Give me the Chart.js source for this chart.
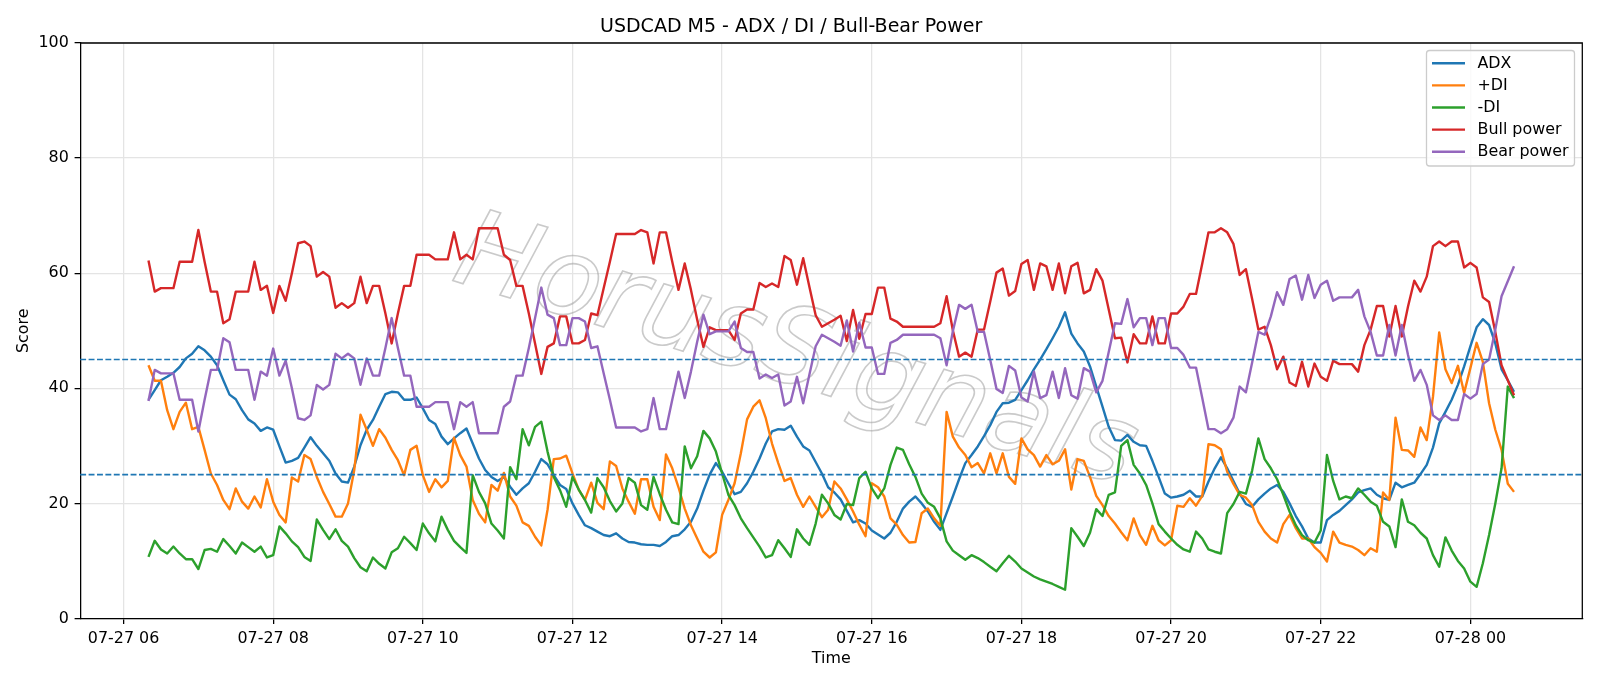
<!DOCTYPE html>
<html>
<head>
<meta charset="utf-8">
<title>USDCAD M5 - ADX / DI / Bull-Bear Power</title>
<script src="https://cdn.jsdelivr.net/npm/chart.js@4.4.1/dist/chart.umd.min.js"></script>
<style>
  html, body { margin: 0; padding: 0; background: #fff; }
  #wrap { width: 1600px; height: 686px; }
</style>
</head>
<body>
<div id="wrap"><canvas id="c" width="1600" height="686"></canvas></div>
<script>
// USDCAD M5, 07-27 06:20 -> 07-28 00:35, one value per 5-minute bar.
const FIRST_BAR_MIN = 380;   // minutes after 07-27 00:00
const BAR_MIN = 5;

const ADX = [
  38.0, 39.7, 41.4, 42.0, 42.7, 43.7, 45.2, 46.0, 47.3, 46.6, 45.5, 44.0,
  41.4, 38.9, 38.1, 36.2, 34.6, 33.9, 32.6, 33.2, 32.8, 29.9, 27.1, 27.4,
  27.9, 29.7, 31.5, 30.0, 28.7, 27.4, 25.2, 23.8, 23.6, 26.4, 30.1, 32.8,
  34.5, 36.8, 39.0, 39.4, 39.3, 38.0, 38.0, 38.4, 36.5, 34.5, 33.8, 31.6,
  30.3, 31.3, 32.2, 33.0, 30.4, 27.8, 25.8, 24.6, 23.9, 24.6, 22.9, 21.5,
  22.6, 23.5, 25.5, 27.7, 26.8, 24.9, 23.2, 22.5, 20.0, 18.0, 16.2, 15.7,
  15.1, 14.5, 14.3, 14.8, 13.9, 13.3, 13.2, 12.9, 12.8, 12.8, 12.6, 13.3,
  14.3, 14.5, 15.5, 16.8, 19.1, 22.2, 25.0, 27.0, 25.5, 23.5, 21.6, 22.0,
  23.5, 25.5, 27.8, 30.4, 32.5, 32.9, 32.8, 33.5, 31.6, 29.9, 29.2, 27.2,
  25.2, 22.8, 21.9, 20.7, 18.7, 16.7, 17.1, 16.5, 15.3, 14.6, 13.9, 14.9,
  16.8, 19.1, 20.3, 21.2, 20.0, 18.6, 16.8, 15.4, 18.3, 21.2, 24.2, 27.0,
  28.4, 29.9, 31.7, 33.6, 35.9, 37.4, 37.5, 38.0, 39.7, 41.4, 43.3, 45.0,
  46.8, 48.7, 50.7, 53.2, 49.5, 47.8, 46.4, 43.8, 40.3, 36.8, 33.3, 31.0,
  30.9, 31.9, 30.7, 30.1, 30.0, 27.4, 24.6, 21.7, 21.0, 21.2, 21.5, 22.2,
  21.2, 21.2, 23.8, 26.1, 28.0, 26.1, 23.9, 21.7, 19.9, 19.4, 20.7, 21.7,
  22.6, 23.2, 22.0, 20.0, 17.8, 16.0, 13.9, 13.2, 13.2, 17.1, 18.0, 18.7,
  19.7, 20.7, 21.9, 22.3, 22.6, 21.5, 20.9, 20.6, 23.6, 22.8, 23.2, 23.6,
  25.1, 26.7, 29.7, 33.9, 35.9, 38.0, 40.6, 43.8, 47.3, 50.6, 52.0, 51.0,
  47.8, 43.3, 41.4, 39.4,
];

const PLUS_DI = [
  44.0, 41.3, 41.3, 36.2, 32.9, 35.9, 37.5, 32.9, 33.3, 29.3, 25.2, 23.2,
  20.6, 19.0, 22.6, 20.3, 19.1, 21.2, 19.3, 24.2, 20.3, 18.0, 16.7, 24.5,
  23.8, 28.4, 27.7, 24.6, 22.0, 19.9, 17.7, 17.7, 20.0, 25.8, 35.4, 32.8,
  30.0, 32.9, 31.4, 29.3, 27.5, 24.9, 29.3, 30.0, 24.9, 22.0, 24.2, 22.8,
  23.9, 31.4, 28.4, 26.4, 20.6, 18.2, 16.7, 23.2, 22.2, 25.3, 21.2, 19.6,
  16.7, 16.1, 14.2, 12.7, 18.9, 27.7, 27.8, 28.3, 25.2, 22.4, 20.6, 23.6,
  20.1, 19.0, 27.3, 26.5, 22.6, 20.3, 18.2, 24.2, 24.2, 19.4, 17.1, 28.5,
  26.1, 22.8, 19.1, 16.2, 13.9, 11.6, 10.6, 11.5, 18.0, 20.6, 23.5, 28.7,
  34.6, 36.8, 37.9, 34.8, 30.4, 27.0, 23.9, 24.4, 21.5, 19.4, 21.2, 19.4,
  17.6, 18.9, 23.8, 22.6, 20.7, 18.6, 16.3, 14.3, 23.5, 22.8, 21.2, 17.4,
  16.3, 14.5, 13.2, 13.3, 18.3, 19.1, 17.4, 16.1, 35.9, 31.6, 29.7, 28.4,
  26.3, 27.0, 25.2, 28.7, 25.2, 28.7, 24.6, 23.4, 31.3, 29.4, 28.4, 26.4,
  28.4, 26.8, 27.4, 29.4, 22.4, 27.7, 27.4, 24.6, 21.3, 19.7, 17.8, 16.5,
  15.0, 13.6, 17.4, 14.5, 12.8, 16.1, 13.6, 12.7, 13.6, 19.6, 19.4, 20.9,
  19.6, 21.3, 30.3, 30.1, 29.4, 25.5, 23.4, 21.5, 21.0, 19.7, 16.8, 15.1,
  13.9, 13.2, 16.4, 18.0, 15.7, 13.9, 13.9, 12.4, 11.4, 9.9, 15.1, 13.2,
  12.8, 12.5, 11.9, 11.0, 12.2, 11.6, 21.9, 20.6, 34.9, 29.3, 29.2, 28.1,
  33.2, 31.0, 38.5, 49.7, 43.3, 40.9, 43.9, 39.2, 43.5, 47.9, 44.6, 37.4,
  32.8, 29.3, 23.4, 22.0,
];

const MINUS_DI = [
  10.7, 13.5, 12.0, 11.3, 12.5, 11.3, 10.3, 10.3, 8.6, 11.9, 12.1, 11.6,
  13.8, 12.6, 11.3, 13.2, 12.4, 11.6, 12.5, 10.6, 11.0, 16.0, 14.8, 13.4,
  12.4, 10.7, 10.0, 17.2, 15.4, 13.8, 15.5, 13.5, 12.5, 10.5, 8.9, 8.2,
  10.6, 9.5, 8.7, 11.5, 12.2, 14.2, 13.1, 11.9, 16.5, 14.8, 13.4, 17.7,
  15.4, 13.5, 12.4, 11.4, 24.9, 22.0, 20.0, 16.5, 15.3, 13.9, 26.3, 24.2,
  32.9, 30.1, 33.3, 34.2, 29.0, 24.6, 22.3, 19.4, 24.6, 22.4, 20.6, 18.4,
  24.4, 22.8, 20.4, 18.6, 20.0, 24.4, 23.6, 19.7, 18.9, 24.6, 21.6, 18.9,
  16.7, 16.4, 29.9, 26.1, 28.2, 32.6, 31.3, 29.0, 25.2, 21.5, 19.7, 17.4,
  15.7, 14.1, 12.5, 10.6, 11.0, 13.6, 12.2, 10.7, 15.5, 13.9, 12.8, 16.5,
  21.5, 20.0, 18.0, 17.2, 19.9, 19.7, 24.4, 25.5, 22.6, 20.9, 22.6, 26.7,
  29.7, 29.3, 26.8, 24.6, 21.7, 20.1, 19.4, 17.4, 13.4, 11.8, 11.0, 10.2,
  11.0, 10.5, 9.8, 9.0, 8.2, 9.6, 10.9, 9.9, 8.7, 8.0, 7.3, 6.8,
  6.4, 6.0, 5.5, 5.0, 15.7, 14.2, 12.6, 14.9, 19.0, 17.8, 21.5, 21.9,
  30.0, 31.0, 26.7, 25.2, 23.2, 20.0, 16.4, 15.1, 13.9, 12.8, 12.0, 11.6,
  15.1, 13.9, 12.0, 11.6, 11.3, 18.3, 19.9, 22.0, 21.7, 25.7, 31.3, 27.7,
  26.1, 24.2, 21.5, 18.6, 16.2, 14.5, 13.6, 13.2, 15.3, 28.4, 23.9, 20.7,
  21.2, 20.9, 22.6, 21.5, 20.3, 19.6, 16.8, 16.0, 12.4, 20.7, 16.8, 16.2,
  14.9, 13.9, 11.0, 9.0, 14.1, 11.8, 10.0, 8.7, 6.4, 5.5, 9.6, 14.5,
  20.0, 26.1, 40.3, 38.3,
];

const BULL_POWER = [
  62.2, 56.8, 57.4, 57.4, 57.4, 62.0, 62.0, 62.0, 67.5, 62.0, 56.8, 56.8,
  51.3, 52.0, 56.8, 56.8, 56.8, 62.0, 57.1, 57.8, 53.1, 57.8, 55.2, 60.0,
  65.2, 65.5, 64.7, 59.4, 60.2, 59.4, 54.0, 54.8, 54.0, 54.8, 59.4, 54.8,
  57.8, 57.8, 53.0, 47.8, 53.0, 57.8, 57.8, 63.2, 63.2, 63.2, 62.4, 62.4,
  62.4, 67.1, 62.4, 63.2, 62.4, 67.8, 67.8, 67.8, 67.8, 63.2, 62.3, 57.8,
  57.8, 53.0, 47.8, 42.5, 47.2, 47.8, 52.5, 52.5, 47.8, 47.8, 48.4, 53.0,
  52.7, 57.4, 62.0, 66.8, 66.8, 66.8, 66.8, 67.5, 67.1, 61.7, 67.1, 67.1,
  62.0, 57.1, 61.7, 57.1, 51.9, 47.2, 50.6, 50.1, 50.1, 50.1, 48.4, 53.0,
  53.7, 53.7, 58.3, 57.6, 58.2, 57.6, 63.0, 62.3, 58.0, 62.6, 57.6, 52.7,
  50.7, 51.3, 51.9, 52.6, 48.2, 53.6, 48.6, 52.9, 52.9, 57.5, 57.5, 52.1,
  51.6, 50.7, 50.7, 50.7, 50.7, 50.7, 50.7, 51.3, 56.0, 50.1, 45.5, 46.2,
  45.5, 50.2, 50.2, 55.1, 60.1, 60.8, 56.1, 56.9, 61.6, 62.3, 57.1, 61.7,
  61.2, 57.1, 61.7, 56.5, 61.2, 61.8, 56.5, 57.1, 60.7, 58.7, 53.7, 48.7,
  48.8, 44.5, 49.4, 47.8, 47.8, 52.5, 47.8, 47.8, 53.0, 53.0, 54.2, 56.4,
  56.4, 61.7, 67.1, 67.1, 67.8, 67.1, 65.1, 59.7, 60.7, 55.5, 50.2, 50.7,
  47.5, 43.3, 45.5, 41.0, 40.4, 44.6, 40.3, 44.3, 42.0, 41.3, 44.8, 44.2,
  44.2, 44.2, 42.9, 47.5, 50.2, 54.3, 54.3, 49.0, 54.3, 49.0, 54.2, 58.7,
  56.8, 59.4, 64.7, 65.5, 64.7, 65.5, 65.5, 61.0, 61.8, 61.0, 55.8, 55.0,
  49.8, 44.0, 41.4, 38.8,
];

const BEAR_POWER = [
  37.8, 43.2, 42.6, 42.6, 42.6, 38.0, 38.0, 38.0, 32.5, 38.0, 43.2, 43.2,
  48.7, 48.0, 43.2, 43.2, 43.2, 38.0, 42.9, 42.2, 46.9, 42.2, 44.8, 40.0,
  34.8, 34.5, 35.3, 40.6, 39.8, 40.6, 46.0, 45.2, 46.0, 45.2, 40.6, 45.2,
  42.2, 42.2, 47.0, 52.2, 47.0, 42.2, 42.2, 36.8, 36.8, 36.8, 37.6, 37.6,
  37.6, 32.9, 37.6, 36.8, 37.6, 32.2, 32.2, 32.2, 32.2, 36.8, 37.7, 42.2,
  42.2, 47.0, 52.2, 57.5, 52.8, 52.2, 47.5, 47.5, 52.2, 52.2, 51.6, 47.0,
  47.3, 42.6, 38.0, 33.2, 33.2, 33.2, 33.2, 32.5, 32.9, 38.3, 32.9, 32.9,
  38.0, 42.9, 38.3, 42.9, 48.1, 52.8, 49.4, 49.9, 49.9, 49.9, 51.6, 47.0,
  46.3, 46.3, 41.7, 42.4, 41.8, 42.4, 37.0, 37.7, 42.0, 37.4, 42.4, 47.3,
  49.3, 48.7, 48.1, 47.4, 51.8, 46.4, 51.4, 47.1, 47.1, 42.5, 42.5, 47.9,
  48.4, 49.3, 49.3, 49.3, 49.3, 49.3, 49.3, 48.7, 44.0, 49.9, 54.5, 53.8,
  54.5, 49.8, 49.8, 44.9, 39.9, 39.2, 43.9, 43.1, 38.4, 37.7, 42.9, 38.3,
  38.8, 42.9, 38.3, 43.5, 38.8, 38.2, 43.5, 42.9, 39.3, 41.3, 46.3, 51.3,
  51.2, 55.5, 50.6, 52.2, 52.2, 47.5, 52.2, 52.2, 47.0, 47.0, 45.8, 43.6,
  43.6, 38.3, 32.9, 32.9, 32.2, 32.9, 34.9, 40.3, 39.3, 44.5, 49.8, 49.3,
  52.5, 56.7, 54.5, 59.0, 59.6, 55.4, 59.7, 55.7, 58.0, 58.7, 55.2, 55.8,
  55.8, 55.8, 57.1, 52.5, 49.8, 45.7, 45.7, 51.0, 45.7, 51.0, 45.8, 41.3,
  43.2, 40.6, 35.3, 34.5, 35.3, 34.5, 34.5, 39.0, 38.2, 39.0, 44.2, 45.0,
  50.2, 56.0, 58.6, 61.2,
];

const SERIES_NAMES = ["ADX", "+DI", "-DI", "Bull power", "Bear power"];
const SERIES_COLORS = ["#1f77b4", "#ff7f0e", "#2ca02c", "#d62728", "#9467bd"];

// x ticks every two hours
const TICK_MIN = [360, 480, 600, 720, 840, 960, 1080, 1200, 1320, 1440];
const TICK_LABELS = [
  "07-27 06", "07-27 08", "07-27 10", "07-27 12", "07-27 14",
  "07-27 16", "07-27 18", "07-27 20", "07-27 22", "07-28 00",
];
const Y_TICKS = [0, 20, 40, 60, 80, 100];
const LEVELS = [45, 25];   // dashed reference lines

const FONT = "'DejaVu Sans', 'Liberation Sans', sans-serif";
const GRID = "#e4e4e4";
const INK = "#000";

function toPoints(values) {
  return values.map((v, k) => ({ x: FIRST_BAR_MIN + BAR_MIN * k, y: v }));
}

const seriesValues = [ADX, PLUS_DI, MINUS_DI, BULL_POWER, BEAR_POWER];
const lastBar = FIRST_BAR_MIN + BAR_MIN * (ADX.length - 1);
const pad = (lastBar - FIRST_BAR_MIN) * 0.05;   // matplotlib-ish x margin

const overlay = {
  id: "overlay",
  beforeDatasetsDraw(chart) {
    const { ctx, chartArea: a } = chart;
    // watermark
    ctx.save();
    ctx.beginPath();
    ctx.rect(a.left, a.top, a.right - a.left, a.bottom - a.top);
    ctx.clip();
    ctx.translate(795, 356);
    ctx.rotate(17 * Math.PI / 180);
    ctx.font = `oblique 108px ${FONT}`;
    ctx.textAlign = "center";
    ctx.textBaseline = "middle";
    ctx.lineWidth = 1.6;
    ctx.strokeStyle = "rgba(150,150,150,0.5)";
    ctx.strokeText("HorusSignals", 0, 0);
    ctx.restore();
  },
  afterDatasetsDraw(chart) {
    const { ctx, chartArea: a, scales: { y } } = chart;
    ctx.save();
    ctx.strokeStyle = "#1f77b4";
    ctx.lineWidth = 1.6;
    ctx.setLineDash([5.9, 2.5]);
    LEVELS.forEach((lv) => {
      const py = y.getPixelForValue(lv);
      ctx.beginPath();
      ctx.moveTo(a.left, py);
      ctx.lineTo(a.right, py);
      ctx.stroke();
    });
    ctx.restore();
  },
  afterDraw(chart) {
    const { ctx, chartArea: a } = chart;
    ctx.save();
    // top + right spines (chart.js only draws left/bottom borders)
    ctx.strokeStyle = INK;
    ctx.lineWidth = 1.27;
    ctx.beginPath();
    ctx.moveTo(a.left, a.top);
    ctx.lineTo(a.right, a.top);
    ctx.lineTo(a.right, a.bottom);
    ctx.stroke();

    // legend, upper right
    const bx = 1426.5, by = 50.5, bw = 148, bh = 115.5, r = 3;
    ctx.beginPath();
    ctx.roundRect(bx, by, bw, bh, r);
    ctx.fillStyle = "rgba(255,255,255,0.8)";
    ctx.fill();
    ctx.lineWidth = 1.3;
    ctx.strokeStyle = "#cccccc";
    ctx.stroke();
    ctx.font = `15.9px ${FONT}`;
    ctx.textBaseline = "middle";
    ctx.textAlign = "left";
    chart.data.datasets.forEach((ds, k) => {
      const ry = 63.3 + k * 22.1;
      ctx.strokeStyle = ds.borderColor;
      ctx.lineWidth = 2.4;
      ctx.beginPath();
      ctx.moveTo(1432, ry);
      ctx.lineTo(1465, ry);
      ctx.stroke();
      ctx.fillStyle = INK;
      ctx.fillText(ds.label, 1477.5, ry + 0.5);
    });
    ctx.restore();
  },
};

new Chart(document.getElementById("c"), {
  type: "line",
  data: {
    datasets: seriesValues.map((vals, k) => ({
      label: SERIES_NAMES[k],
      data: toPoints(vals),
      borderColor: SERIES_COLORS[k],
      backgroundColor: SERIES_COLORS[k],
      borderWidth: 2.4,
      borderJoinStyle: "round",
      pointRadius: 0,
      tension: 0,
      fill: false,
      order: SERIES_NAMES.length - k,   // later series painted on top
    })),
  },
  options: {
    responsive: false,
    devicePixelRatio: 1,
    animation: false,
    layout: { padding: { top: 0, left: 0, right: 17.7, bottom: 0 } },
    plugins: {
      legend: { display: false },
      tooltip: { enabled: false },
      title: {
        display: true,
        text: "USDCAD M5 - ADX / DI / Bull-Bear Power",
        color: INK,
        font: { family: FONT, size: 19, weight: "normal", lineHeight: 1.2 },
        padding: { top: 15.4, bottom: 4.8 },
      },
    },
    scales: {
      x: {
        type: "linear",
        min: FIRST_BAR_MIN - pad,
        max: lastBar + pad,
        afterBuildTicks: (s) => { s.ticks = TICK_MIN.map((v) => ({ value: v })); },
        afterFit: (s) => { s.height = 67.5; },
        ticks: {
          autoSkip: false,
          maxRotation: 0,
          padding: 5.5,
          color: INK,
          font: { family: FONT, size: 15.9 },
          callback: (v, i) => TICK_LABELS[i],
        },
        grid: { color: GRID, lineWidth: 1.27, tickLength: 5.6, tickColor: INK, tickWidth: 1.27 },
        border: { color: INK, width: 1.27 },
        title: {
          display: true, text: "Time", color: INK,
          font: { family: FONT, size: 15.9 },
          padding: { top: 0, bottom: 18 },
        },
      },
      y: {
        min: 0,
        max: 100,
        afterBuildTicks: (s) => { s.ticks = Y_TICKS.map((v) => ({ value: v })); },
        afterFit: (s) => { s.width = 80.2; },
        ticks: {
          padding: 5.8,
          color: INK,
          font: { family: FONT, size: 15.9 },
        },
        grid: { color: GRID, lineWidth: 1.27, tickLength: 5.6, tickColor: INK, tickWidth: 1.27 },
        border: { color: INK, width: 1.27 },
        title: {
          display: true, text: "Score", color: INK,
          font: { family: FONT, size: 15.9 },
          padding: { top: 14.5, bottom: 0 },
        },
      },
    },
  },
  plugins: [overlay],
});
</script>
</body>
</html>
